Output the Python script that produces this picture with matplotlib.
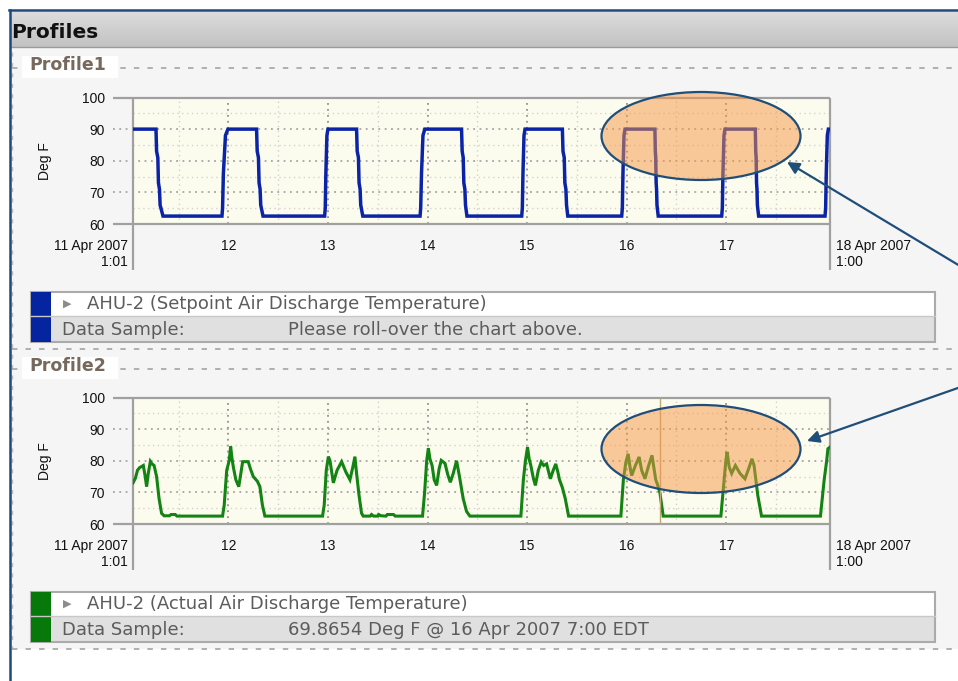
import numpy as np
import matplotlib
matplotlib.use('Agg')
import matplotlib.pyplot as plt
from matplotlib.patches import Rectangle, Ellipse
from matplotlib.colors import LinearSegmentedColormap

# ---- data, x in hours after 11 Apr 2007 00:00 ----
setpoint_points = [
    (1.02, 90), (6.56, 90), (6.7, 83), (7.0, 81), (7.15, 73), (7.4, 71), (7.55, 66), (8.25, 62.5),
    (22.46, 62.5), (22.6, 65), (22.8, 76), (23.3, 88), (23.9, 90),
    (30.8, 90), (30.95, 83), (31.25, 81), (31.4, 73), (31.65, 71), (31.8, 66), (32.35, 62.5),
    (47.2, 62.5), (47.35, 65), (47.5, 76), (47.75, 88), (48.0, 90),
    (54.9, 90), (55.05, 83), (55.35, 81), (55.5, 73), (55.75, 71), (55.9, 66), (56.4, 62.5),
    (70.2, 62.5), (70.35, 65), (70.55, 76), (70.9, 88), (71.35, 90),
    (80.2, 90), (80.35, 83), (80.6, 81), (80.75, 73), (81.0, 71), (81.15, 66), (81.5, 62.5),
    (94.7, 62.5), (94.85, 65), (95.0, 76), (95.25, 88), (95.5, 90),
    (104.5, 90), (104.65, 83), (104.95, 81), (105.1, 73), (105.35, 71), (105.5, 66), (105.8, 62.5),
    (118.8, 62.5), (118.95, 65), (119.1, 76), (119.35, 88), (119.6, 90),
    (126.8, 90), (126.9, 83), (127.0, 81), (127.1, 73), (127.2, 71), (127.3, 66), (127.6, 62.5),
    (142.9, 62.5), (143.05, 65), (143.2, 76), (143.45, 88), (143.7, 90),
    (151.0, 90), (151.1, 83), (151.2, 81), (151.3, 73), (151.4, 71), (151.5, 66), (151.8, 62.5),
    (167.8, 62.5), (167.95, 65), (168.1, 76), (168.35, 88), (168.6, 90), (169.0, 90),
]

actual_points = [
    (1.02, 73.0), (1.6, 74.5), (2.1, 77.0), (2.6, 77.8), (3.5, 78.5), (3.9, 75.5), (4.3, 71.8),
    (4.7, 76.0), (5.2, 79.8), (5.6, 79.0), (6.1, 78.5), (6.7, 75.0), (7.3, 68.0), (7.9, 63.4),
    (8.5, 62.6), (9.8, 62.6), (10.2, 63.0), (11.2, 63.0), (11.6, 62.5), (22.6, 62.5),
    (23.0, 66.0), (23.6, 77.0), (24.2, 80.0), (24.55, 84.5), (24.9, 80.5), (25.2, 78.0), (25.8, 74.0),
    (26.5, 71.8), (27.0, 76.0), (27.45, 79.7), (28.8, 79.7), (29.3, 77.5), (30.0, 75.0), (31.0, 73.5),
    (31.6, 71.8), (32.2, 66.0), (32.8, 62.5), (46.7, 62.5),
    (47.1, 66.0), (47.6, 77.0), (48.1, 81.3), (48.5, 80.0), (49.3, 73.0), (50.2, 77.0), (51.3, 79.7),
    (52.3, 76.5), (53.3, 74.0), (54.0, 78.0), (54.5, 81.3), (54.9, 76.0), (55.5, 69.0), (56.1, 63.4),
    (56.5, 62.5), (58.2, 62.5), (58.5, 63.0), (59.0, 62.5), (60.0, 62.5), (60.2, 63.0), (60.8, 62.6),
    (62.0, 62.5), (62.3, 63.0), (63.8, 63.0), (64.2, 62.5), (70.8, 62.5),
    (71.3, 70.0), (71.8, 80.0), (72.2, 84.0), (72.6, 80.5), (73.1, 78.5), (73.6, 74.0), (74.2, 72.2),
    (74.8, 77.5), (75.3, 80.1), (76.2, 79.2), (76.9, 75.5), (77.5, 73.2), (78.2, 76.0), (79.0, 80.0),
    (79.7, 75.0), (80.6, 68.0), (81.4, 64.0), (82.2, 62.5), (94.5, 62.5),
    (95.1, 74.0), (95.6, 80.0), (96.1, 84.3), (96.5, 80.5), (96.9, 78.5), (97.5, 74.5), (98.0, 72.2),
    (98.7, 77.0), (99.4, 79.6), (100.0, 78.5), (100.7, 79.0), (101.6, 74.3), (102.3, 77.0),
    (102.9, 79.0), (103.4, 76.5), (103.8, 74.0), (104.5, 71.5), (105.2, 68.0), (106.0, 62.5), (118.6, 62.5),
    (119.2, 74.0), (119.8, 79.5), (120.35, 82.2), (120.8, 78.0), (121.2, 75.3), (122.1, 78.5),
    (123.0, 81.2), (123.6, 77.0), (124.4, 74.3), (125.3, 78.5), (126.1, 81.7), (126.6, 77.5),
    (127.0, 74.0), (127.5, 72.2), (128.0, 69.9), (128.8, 62.5), (142.7, 62.5),
    (143.5, 74.0), (143.9, 80.0), (144.2, 82.8), (144.7, 78.0), (145.3, 76.0), (146.2, 78.5),
    (147.3, 76.0), (148.5, 74.3), (149.4, 77.5), (150.2, 80.6), (150.7, 78.5), (151.6, 69.0),
    (152.5, 62.5), (166.7, 62.5),
    (167.6, 74.0), (168.2, 80.0), (168.5, 83.8), (169.0, 84.3),
]

day_hours = [24, 48, 72, 96, 120, 144]
day_labels = ['12', '13', '14', '15', '16', '17']
half_day_hours = [12, 36, 60, 84, 108, 132, 156]
y_ticks = [60, 70, 80, 90, 100]
y_minor = [65, 75, 85, 95]
x_start, x_end = 1 + 1 / 60, 169.0
start_label = '11 Apr 2007\n1:01'
end_label = '18 Apr 2007\n1:00'
cursor_hour = 128.0

profile_names = ['Profile1', 'Profile2']
series_names = ['AHU-2 (Setpoint Air Discharge Temperature)',
                'AHU-2 (Actual Air Discharge Temperature)']
samples = ['Please roll-over the chart above.',
           '69.8654 Deg F @ 16 Apr 2007 7:00 EDT']

sp_h, sp_v = zip(*setpoint_points)
ac_h, ac_v = zip(*actual_points)

W, H = 958, 681
fig = plt.figure(figsize=(W / 100, H / 100), dpi=100)
fig.patch.set_facecolor('white')

# page background (pixel coordinates)
page = fig.add_axes([0, 0, 1, 1], zorder=0)
page.axis('off')
page.add_patch(Rectangle((11, 47), W - 11, 602, color='#F5F5F5', lw=0))
grad = np.linspace(0, 1, 40).reshape(-1, 1)
cmap = LinearSegmentedColormap.from_list('hdr', ['#DCDCDC', '#C2C2C2'])
page.imshow(grad, extent=(11, W, 47, 12), cmap=cmap, aspect='auto', zorder=1)
page.set_xlim(0, W)
page.set_ylim(H, 0)
page.plot([11, W], [46.5, 46.5], color='#9A9A9A', lw=1, zorder=2)
page.plot([9, W], [10, 10], color='#1F497D', lw=1.8, zorder=3)
page.plot([10, 10], [10, H], color='#1F497D', lw=1.8, zorder=3)
page.text(11, 33, 'Profiles', fontsize=14.5, fontweight='bold', color='#111111', va='center', zorder=3)

dash = (0, (3, 4.5))
page.plot([12, 12], [52, 649], color='#BBBBBB', lw=1, ls=dash)
for y in (349, 649):
    page.plot([12, W], [y, y], color='#AAAAAA', lw=1.3, ls=dash)


def section(y, label):
    page.plot([12, W], [y, y], color='#AAAAAA', lw=1.3, ls=dash)
    page.add_patch(Rectangle((22, y - 12), 96, 22, color='white', lw=0, zorder=2))
    page.text(29, y - 3, label, fontsize=12.5, fontweight='bold', color='#76685C',
              va='center', zorder=3)


def legend_box(top, color, name, sample):
    left, right = 31, 935
    page.add_patch(Rectangle((left, top), right - left, 24, facecolor='white', lw=0))
    page.add_patch(Rectangle((left, top + 24), right - left, 26, facecolor='#E0E0E0', lw=0))
    page.plot([left, right], [top + 24, top + 24], color='#C8C8C8', lw=1)
    page.add_patch(Rectangle((left, top), right - left, 50, fill=False,
                             edgecolor='#ABABAB', lw=1.5))
    page.add_patch(Rectangle((left, top), 20, 50, facecolor=color, lw=0))
    txt = dict(fontsize=13, color='#5C5C5C', va='center', family='DejaVu Sans')
    page.text(63, top + 12, '\u25B6', fontsize=8, color='#8C8C8C', va='center')
    page.text(87, top + 12, name, **txt)
    page.text(62, top + 38, 'Data Sample:', **txt)
    page.text(288, top + 38, sample, **txt)


def chart(top_px, hours, values, color, lw):
    ax = fig.add_axes([133 / W, 1 - (top_px + 126.5) / H, 697 / W, 126.5 / H], zorder=1)
    ax.set_facecolor('#FCFCEE')
    for s in ax.spines.values():
        s.set_visible(False)
    ax.set_xlim(x_start, x_end)
    ax.set_ylim(60, 100)

    # grid
    ax.set_xticks(day_hours, day_labels)
    ax.set_xticks(half_day_hours, minor=True)
    ax.grid(axis='x', which='major', color='#929292', lw=1.3, ls=(0, (1, 2.3)))
    ax.grid(axis='x', which='minor', color='#CFCFCF', lw=1.0, ls=(0, (1, 2.5)))
    ext = -20 / 697
    ax.hlines([70, 80, 90], ext, 1, transform=ax.get_yaxis_transform(), colors='#A4A4A4',
              lw=1.3, linestyles=[(0, (1, 2.5))], clip_on=False)
    ax.hlines(y_minor, 0, 1, transform=ax.get_yaxis_transform(), colors='#D2D2D2',
              lw=1.0, linestyles=[(0, (1, 2.5))])
    frame = dict(color='#A0A0A0', lw=1.6, clip_on=False, transform=ax.transAxes,
                 solid_capstyle='butt')
    down = -46 / 126.5
    ax.plot([ext, 1], [1, 1], **frame)
    ax.plot([ext, 1], [0, 0], **frame)
    ax.plot([0, 0], [1, down], **frame)
    ax.plot([1, 1], [1, down], **frame)

    ax.plot(hours, values, color=color, lw=lw, solid_joinstyle='miter', zorder=3)

    ax.set_yticks(y_ticks)
    tf = dict(family='Liberation Sans', size=10, color='#111111')
    ax.tick_params(axis='both', which='both', length=0)
    ax.tick_params(axis='y', pad=20)
    ax.tick_params(axis='x', pad=10.5)
    for lab in ax.get_xticklabels() + ax.get_yticklabels():
        lab.set_fontfamily('Liberation Sans')
        lab.set_fontsize(10)
        lab.set_color('#111111')
    ax.text(-5 / 697, -15 / 126.5, start_label, transform=ax.transAxes, ha='right',
            va='top', multialignment='right', linespacing=1.15, **tf)
    ax.text(1 + 6 / 697, -15 / 126.5, end_label, transform=ax.transAxes, ha='left',
            va='top', linespacing=1.15, **tf)
    ax.text(-88 / 697, 0.5, 'Deg F', transform=ax.transAxes, rotation=90,
            ha='center', va='center', **tf)
    return ax


section(68, profile_names[0])
section(369, profile_names[1])
legend_box(292, '#0524A0', series_names[0], samples[0])
legend_box(592, '#07780A', series_names[1], samples[1])

ax1 = chart(97.5, sp_h, sp_v, '#0B24A6', 2.5)
ax2 = chart(397.5, ac_h, ac_v, '#138313', 2.2)
ax2.axvline(cursor_hour, color='#BFA874', lw=1, zorder=4)

# annotation overlay
over = fig.add_axes([0, 0, 1, 1], zorder=3)
over.set_xlim(0, W)
over.set_ylim(H, 0)
over.axis('off')
for cy in (136, 449):
    over.add_patch(Ellipse((701, cy), 199, 88, facecolor=(0.97, 0.59, 0.27, 0.5),
                           edgecolor='#1F4E79', lw=1.6))
arrow = dict(arrowstyle='-|>', color='#1F4E79', lw=1.6, mutation_scale=18,
             shrinkA=0, shrinkB=0)
over.annotate('', xy=(787, 162), xytext=(965, 269), arrowprops=arrow)
over.annotate('', xy=(807, 441), xytext=(965, 385.5), arrowprops=arrow)

fig.savefig('out.png', dpi=100)
